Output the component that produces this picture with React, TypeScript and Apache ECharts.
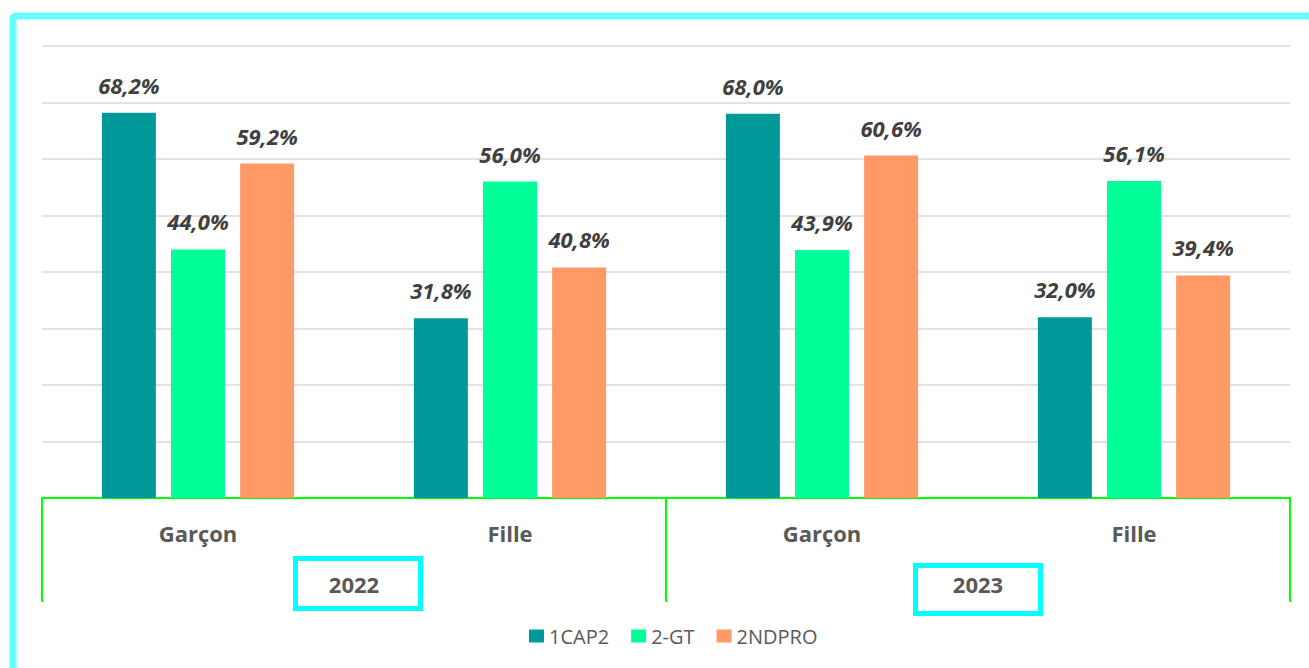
import React, { useEffect, useRef } from "react";
import * as echarts from "echarts";

const categories = ["Garçon", "Fille", "Garçon", "Fille"];
const years = ["2022", "2023"];
const seriesNames = ["1CAP2", "2-GT", "2NDPRO"];
const cap2 = [68.2, 31.8, 68.0, 32.0];
const gt = [44.0, 56.0, 43.9, 56.1];
const ndpro = [59.2, 40.8, 60.6, 39.4];
const colors = ["#009999", "#00FF99", "#FF9966"];
const yTicks = [0, 10, 20, 30, 40, 50, 60, 70, 80];

const FONT = "'Open Sans', Lato, sans-serif";
const GREEN = "#00FF00";

export default function App() {
  const ref = useRef<HTMLDivElement>(null);
  useEffect(() => {
    if (!ref.current) return;
    const chart = echarts.init(ref.current, undefined, { renderer: "svg" });
    const fmt = (p: any) => p.value.toFixed(1).replace(".", ",") + "%";
    const mk = (name: string, data: number[], color: string) => ({
      name,
      type: "bar",
      data,
      barWidth: 54,
      barGap: "28%",
      itemStyle: { color },
      label: {
        show: true,
        position: "top",
        distance: 17,
        formatter: fmt,
        fontFamily: FONT,
        fontSize: 22,
        fontWeight: "bold",
        fontStyle: "italic",
        color: "#404040",
      },
    });
    chart.setOption({
      animation: false,
      textStyle: { fontFamily: FONT },
      grid: { left: 42, right: 19, top: 46, bottom: 170, containLabel: false },
      legend: {
        data: seriesNames,
        top: 621,
        left: 524,
        itemWidth: 15,
        itemHeight: 13,
        itemGap: 22,
        icon: "rect",
        textStyle: { fontFamily: FONT, fontSize: 20, color: "#595959" },
      },
      xAxis: [
        {
          type: "category",
          data: categories,
          position: "bottom",
          axisLine: { show: true, lineStyle: { color: GREEN, width: 2 } },
          axisTick: { show: false },
          axisLabel: {
            interval: 0,
            margin: 24,
            fontFamily: FONT,
            fontSize: 22,
            fontWeight: "bold",
            color: "#595959",
          },
        },
        {
          type: "category",
          data: years,
          position: "bottom",
          axisLine: { show: true, lineStyle: { color: GREEN, width: 2 } },
          axisTick: {
            show: true,
            interval: 0,
            length: 104,
            lineStyle: { color: GREEN, width: 2 },
          },
          axisLabel: {
            interval: 0,
            margin: 75,
            fontFamily: FONT,
            fontSize: 22,
            fontWeight: "bold",
            color: "#595959",
          },
        },
      ],
      yAxis: {
        type: "value",
        min: yTicks[0],
        max: yTicks[yTicks.length - 1],
        interval: 10,
        axisLabel: { show: false },
        axisLine: { show: false },
        axisTick: { show: false },
        splitLine: { lineStyle: { color: "#D9D9D9", width: 1.5 } },
      },
      series: [
        mk(seriesNames[0], cap2, colors[0]),
        mk(seriesNames[1], gt, colors[1]),
        mk(seriesNames[2], ndpro, colors[2]),
      ],
      graphic: [
        {
          type: "rect",
          shape: { x: 13, y: 16, width: 1400, height: 800, r: 3 },
          style: { fill: "none", stroke: "#66FFFF", lineWidth: 7 },
          silent: true,
        },
        {
          type: "rect",
          shape: { x: 295.5, y: 558.5, width: 125, height: 50 },
          style: { fill: "none", stroke: "#00FFFF", lineWidth: 5 },
          silent: true,
        },
        {
          type: "rect",
          shape: { x: 915.5, y: 565.5, width: 125, height: 48 },
          style: { fill: "none", stroke: "#00FFFF", lineWidth: 5 },
          silent: true,
        },
      ],
    });
    return () => chart.dispose();
  }, []);
  return (
    <div
      ref={ref}
      style={{ position: "fixed", left: 0, top: 0, width: 1309, height: 668, background: "#fff" }}
    />
  );
}
